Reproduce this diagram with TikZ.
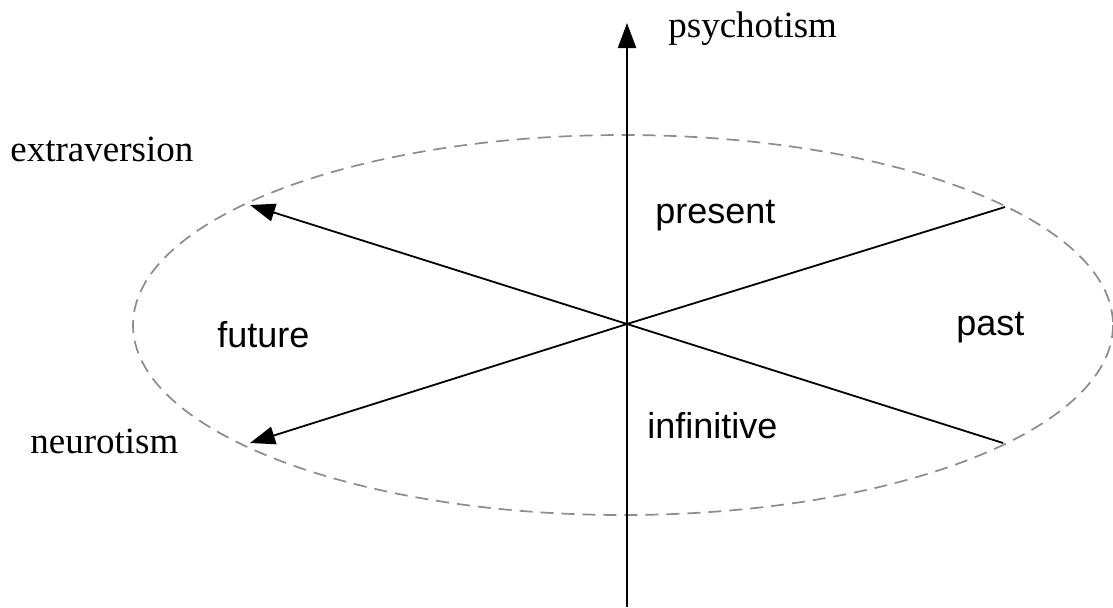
\documentclass[tikz,border=0pt]{standalone}
\usepackage{fontspec}
\setmainfont{Liberation Serif}
\setsansfont{Liberation Sans}
\usetikzlibrary{arrows.meta}
\definecolor{gris}{HTML}{8C8C8C}

\begin{document}
\begin{tikzpicture}[x=0.5pt, y=-0.5pt, >={Triangle[length=12.5pt,width=9pt]},
      axis/.style={line width=1.1pt},
      ray/.style={line width=0.9pt},
      serif/.style={inner sep=0pt, anchor=base west, font=\fontsize{18.5}{22}\selectfont\rmfamily},
      tense/.style={inner sep=0pt, anchor=base west, font=\fontsize{18}{22}\selectfont\sffamily}]
    \useasboundingbox (0,0) rectangle (1113,607);
    % ellipse
    \draw[gris, line width=0.85pt, dash pattern=on 6.5pt off 4pt] (623,325) ellipse [x radius=490, y radius=190];
    % points
    \coordinate (o) at (627,324);
    \coordinate (bot) at (627,607);
    \coordinate (top) at (627,23);
    \coordinate (ul) at (250,205);
    \coordinate (ll) at (250,443);
    \coordinate (ur) at (1005,207);
    \coordinate (lr) at (1003,443);
    % axes
    \draw[->, axis] (bot) -- (top);
    \draw[->, ray] (o) -- (ul);
    \draw[->, ray] (o) -- (ll);
    \draw[ray] (o) -- (ur);
    \draw[ray] (o) -- (lr);
    % labels
    \node[serif] (psy) at (668,37) {psychotism};
    \node[serif] (ext) at (10,161) {extraversion};
    \node[serif] (neu) at (30,453) {neurotism};
    \node[tense] (pres) at (655,223) {present};
    \node[tense] (past) at (956,335) {past};
    \node[tense] (fut) at (217,347) {future};
    \node[tense] (inf) at (647,438) {infinitive};
\end{tikzpicture}
\end{document}
